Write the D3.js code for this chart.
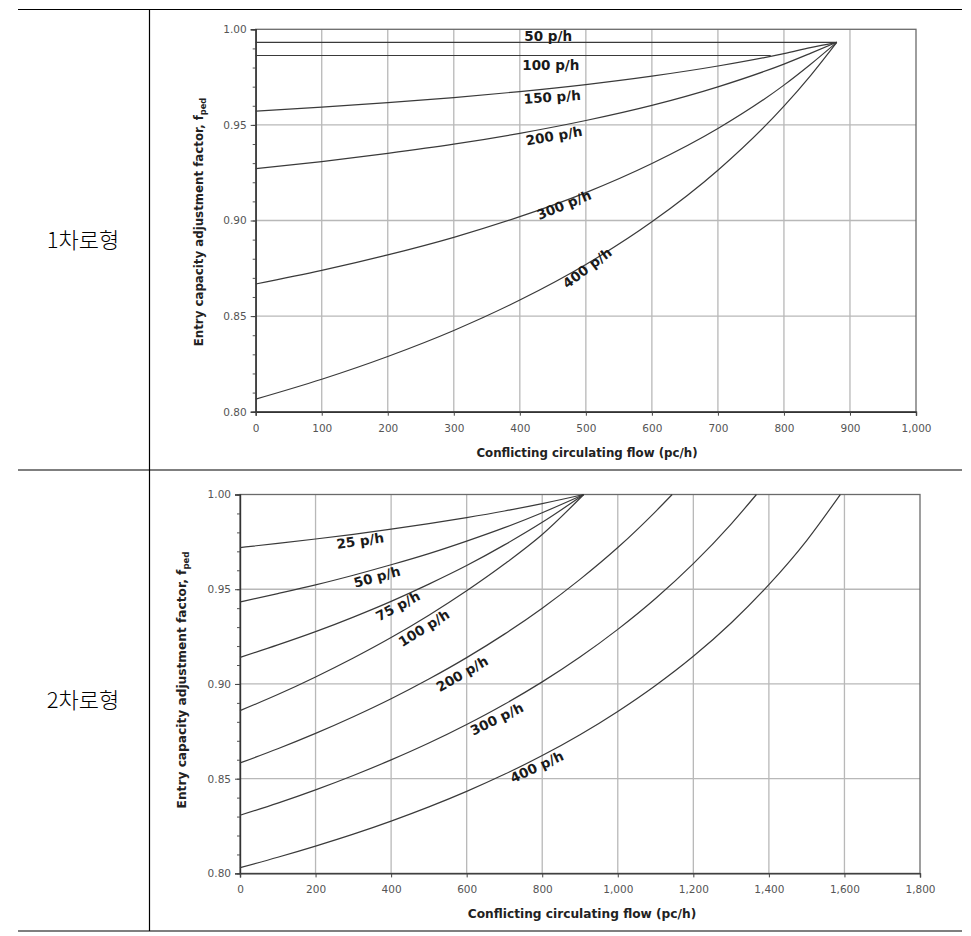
<!DOCTYPE html>
<html>
<head>
<meta charset="utf-8">
<script src="https://cdn.jsdelivr.net/npm/d3@7"></script>
<style>
  html, body { margin: 0; padding: 0; background: #fff; }
  svg { display: block; }
</style>
</head>
<body>
<svg id="chart" width="971" height="936"></svg>
<script>
// ---------------- DATA ----------------
const rowLabels = ["1차로형", "2차로형"];

// Panel 1 (single-lane)
const topXTicks = [0, 100, 200, 300, 400, 500, 600, 700, 800, 900, 1000];
const topYTicks = [0.80, 0.85, 0.90, 0.95, 1.00];
const topFlow = [0, 100, 200, 300, 400, 500, 600, 700, 800, 840, 880];
const top50Flow = [0, 880];
const top50 = [0.9932, 0.9932];
const top100Flow = [0, 780];
const top100 = [0.9863, 0.9863];
const top150 = [0.9572, 0.9593, 0.9616, 0.9643, 0.9674, 0.9711, 0.9755, 0.9808, 0.9873, 0.9904, 0.9932];
const top200 = [0.9271, 0.9308, 0.9351, 0.9399, 0.9456, 0.9523, 0.9602, 0.9699, 0.9818, 0.9874, 0.9932];
const top300 = [0.8668, 0.8739, 0.8820, 0.8912, 0.9020, 0.9146, 0.9298, 0.9481, 0.9708, 0.9816, 0.9932];
const top400 = [0.8066, 0.8170, 0.8289, 0.8425, 0.8584, 0.8770, 0.8993, 0.9263, 0.9598, 0.9757, 0.9932];
const topSeriesNames = ["50 p/h", "100 p/h", "150 p/h", "200 p/h", "300 p/h", "400 p/h"];

// Panel 2 (two-lane)
const botXTicks = [0, 200, 400, 600, 800, 1000, 1200, 1400, 1600, 1800];
const botYTicks = [0.80, 0.85, 0.90, 0.95, 1.00];
const botFlowA = [0, 100, 200, 300, 400, 500, 600, 700, 800, 910];
const bot25  = [0.9720, 0.9742, 0.9765, 0.9790, 0.9817, 0.9846, 0.9878, 0.9913, 0.9952, 1.0000];
const bot50  = [0.9433, 0.9477, 0.9523, 0.9574, 0.9629, 0.9688, 0.9754, 0.9825, 0.9904, 1.0000];
const bot75  = [0.9140, 0.9206, 0.9276, 0.9353, 0.9436, 0.9527, 0.9625, 0.9734, 0.9853, 1.0000];
const bot100 = [0.8859, 0.8944, 0.9037, 0.9137, 0.9245, 0.9363, 0.9492, 0.9633, 0.9789, 1.0000];
const bot200Flow = [0, 100, 200, 300, 400, 500, 600, 700, 800, 900, 1000, 1100, 1144];
const bot200 = [0.8583, 0.8658, 0.8739, 0.8827, 0.8922, 0.9026, 0.9139, 0.9263, 0.9400, 0.9552, 0.9720, 0.9910, 1.0000];
const bot300Flow = [0, 100, 200, 300, 400, 500, 600, 700, 800, 900, 1000, 1100, 1200, 1300, 1367];
const bot300 = [0.8307, 0.8371, 0.8441, 0.8517, 0.8599, 0.8688, 0.8786, 0.8893, 0.9011, 0.9142, 0.9288, 0.9451, 0.9635, 0.9844, 1.0000];
const bot400Flow = [0, 100, 200, 300, 400, 500, 600, 700, 800, 900, 1000, 1100, 1200, 1300, 1400, 1500, 1589];
const bot400 = [0.8030, 0.8085, 0.8144, 0.8207, 0.8276, 0.8351, 0.8433, 0.8523, 0.8622, 0.8732, 0.8855, 0.8992, 0.9146, 0.9322, 0.9524, 0.9757, 1.0000];
const botSeriesNames = ["25 p/h", "50 p/h", "75 p/h", "100 p/h", "200 p/h", "300 p/h", "400 p/h"];

const xTitle = "Conflicting circulating flow (pc/h)";
const yTitle = "Entry capacity adjustment factor, f";
const ySub = "ped";

// ---------------- LAYOUT ----------------
const svg = d3.select("#chart");
const ink = "#000";

// table lines
const table = { x0: 18, x1: 962, xDiv: 149.5, y0: 9.5, yMid: 470, y1: 931 };
const tg = svg.append("g").attr("stroke", ink).attr("stroke-width", 1.2);
tg.append("line").attr("x1", table.x0).attr("x2", table.x1).attr("y1", table.y0).attr("y2", table.y0);
tg.append("line").attr("x1", table.x0).attr("x2", table.x1).attr("y1", table.yMid).attr("y2", table.yMid);
tg.append("line").attr("x1", table.x0).attr("x2", table.x1).attr("y1", table.y1).attr("y2", table.y1);
tg.append("line").attr("x1", table.xDiv).attr("x2", table.xDiv).attr("y1", table.y0).attr("y2", table.y1);

svg.append("text").attr("x", 83).attr("y", 248).attr("text-anchor", "middle")
  .attr("font-family", "'Noto Sans CJK KR'").attr("font-size", 22).attr("font-weight", 300)
  .text(rowLabels[0]);
svg.append("text").attr("x", 83).attr("y", 708).attr("text-anchor", "middle")
  .attr("font-family", "'Noto Sans CJK KR'").attr("font-size", 22).attr("font-weight", 300)
  .text(rowLabels[1]);

function zip(xs, ys) { return xs.map((x, i) => [x, ys[i]]); }

function panel(cfg) {
  const x = d3.scaleLinear().domain(cfg.xDomain).range([cfg.left, cfg.right]);
  const y = d3.scaleLinear().domain([0.80, 1.00]).range([cfg.bottom, cfg.top]);
  const g = svg.append("g");

  // grid
  const grid = g.append("g").attr("stroke", "#b8b8b8").attr("stroke-width", 1.3);
  cfg.xTicks.slice(1, -1).forEach(t => {
    grid.append("line").attr("x1", x(t)).attr("x2", x(t)).attr("y1", cfg.top).attr("y2", cfg.bottom);
  });
  cfg.yTicks.slice(1, -1).forEach(t => {
    grid.append("line").attr("x1", cfg.left).attr("x2", cfg.right).attr("y1", y(t)).attr("y2", y(t));
  });

  // frame
  g.append("rect").attr("x", cfg.left).attr("y", cfg.top)
    .attr("width", cfg.right - cfg.left).attr("height", cfg.bottom - cfg.top)
    .attr("fill", "none").attr("stroke", "#6a6a6a").attr("stroke-width", 1.3);

  // minor y ticks
  const minor = d3.range(0.80, 1.0001, 0.01);
  const minorAxis = d3.axisLeft(y).tickValues(minor).tickSize(3).tickFormat("");
  g.append("g").attr("transform", `translate(${cfg.left},0)`).call(minorAxis)
    .call(s => s.select(".domain").remove())
    .call(s => s.selectAll("line").attr("stroke", "#555"));

  // y axis
  const yAxis = d3.axisLeft(y).tickValues(cfg.yTicks).tickSize(5).tickPadding(4).tickFormat(d3.format(".2f"));
  g.append("g").attr("transform", `translate(${cfg.left},0)`).call(yAxis)
    .call(s => s.select(".domain").attr("stroke", "#333").attr("stroke-width", 1.4))
    .call(s => s.selectAll("line").attr("stroke", "#444"))
    .call(s => s.selectAll("text").attr("fill", "#555").attr("font-family", "'DejaVu Sans'").attr("font-size", 10.5));

  // x axis
  const xAxis = d3.axisBottom(x).tickValues(cfg.xTicks).tickSize(4).tickPadding(cfg.xPad).tickFormat(d3.format(","));
  g.append("g").attr("transform", `translate(0,${cfg.bottom})`).call(xAxis)
    .call(s => s.select(".domain").attr("stroke", "#333").attr("stroke-width", 1.4))
    .call(s => s.selectAll("line").attr("stroke", "#444"))
    .call(s => s.selectAll("text").attr("fill", "#555").attr("font-family", "'DejaVu Sans'").attr("font-size", 10.5));

  // curves
  const line = d3.line().x(d => x(d[0])).y(d => y(d[1])).curve(d3.curveMonotoneX);
  cfg.series.forEach(s => {
    g.append("path").datum(s).attr("d", line).attr("fill", "none")
      .attr("stroke", "#3a3a3a").attr("stroke-width", 1.2);
  });

  // curve labels
  cfg.labels.forEach((lb, i) => {
    g.append("text")
      .attr("transform", `translate(${x(lb[0])},${y(lb[1])}) rotate(${lb[2]})`)
      .attr("text-anchor", "middle").attr("dy", "0.35em")
      .attr("font-family", "'DejaVu Sans'").attr("font-weight", "bold").attr("font-size", 13.5)
      .attr("fill", "#1a1a1a")
      .text(cfg.names[i]);
  });

  // axis titles
  g.append("text").attr("x", cfg.xTitlePos[0]).attr("y", cfg.xTitlePos[1])
    .attr("text-anchor", "middle").attr("font-family", "'DejaVu Sans'").attr("font-weight", "bold")
    .attr("font-size", cfg.titleSize).attr("fill", "#222").text(xTitle);
  const yt = g.append("text")
    .attr("transform", `translate(${cfg.yTitlePos[0]},${cfg.yTitlePos[1]}) rotate(-90)`)
    .attr("text-anchor", "middle").attr("font-family", "'DejaVu Sans'").attr("font-weight", "bold")
    .attr("font-size", cfg.titleSize).attr("fill", "#222");
  yt.append("tspan").text(yTitle);
  yt.append("tspan").attr("dy", 3).attr("font-size", cfg.titleSize * 0.7).text(ySub);
}

panel({
  xDomain: [0, 1000], left: 255.7, right: 916, top: 29.3, bottom: 411.7,
  xTicks: topXTicks, yTicks: topYTicks, xPad: 9,
  series: [zip(top50Flow, top50), zip(top100Flow, top100), zip(topFlow, top150),
           zip(topFlow, top200), zip(topFlow, top300), zip(topFlow, top400)],
  names: topSeriesNames,
  labels: [[443, 0.9965, 0], [447, 0.9813, 0], [449, 0.9646, -4], [452, 0.9442, -10],
           [467, 0.9081, -22], [502, 0.8752, -37]],
  xTitlePos: [587, 457], yTitlePos: [203, 222], titleSize: 11.8
});

panel({
  xDomain: [0, 1800], left: 240, right: 920, top: 494.5, bottom: 873.4,
  xTicks: botXTicks, yTicks: botYTicks, xPad: 8,
  series: [zip(botFlowA, bot25), zip(botFlowA, bot50), zip(botFlowA, bot75), zip(botFlowA, bot100),
           zip(bot200Flow, bot200), zip(bot300Flow, bot300), zip(bot400Flow, bot400)],
  names: botSeriesNames,
  labels: [[318, 0.9755, -8], [363, 0.9565, -15], [418, 0.9411, -28], [487, 0.9295, -32],
           [588, 0.9053, -30], [680, 0.8815, -26], [786, 0.8562, -25]],
  xTitlePos: [582, 918], yTitlePos: [186, 680], titleSize: 12.2
});
</script>
</body>
</html>
